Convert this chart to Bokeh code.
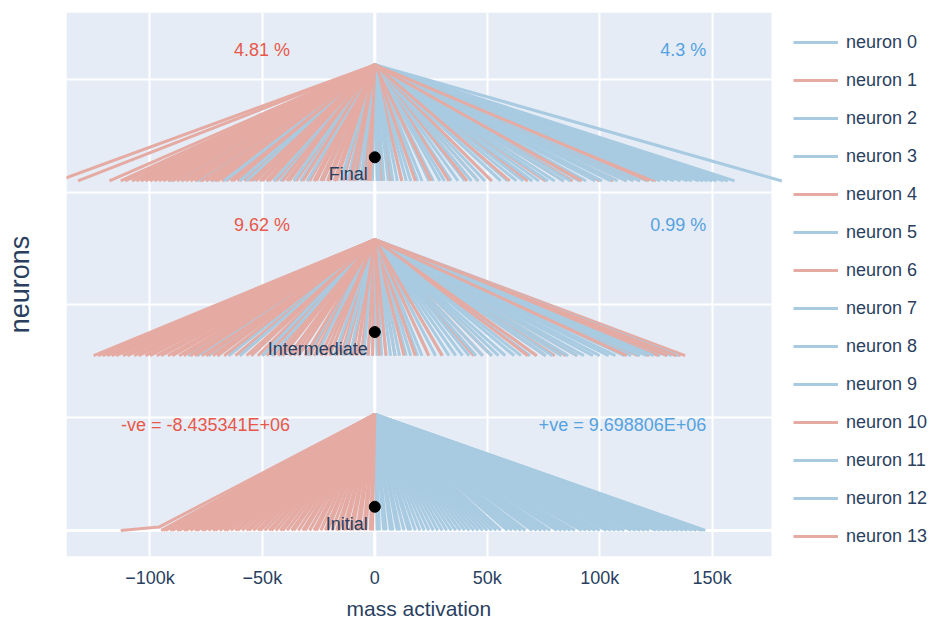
from bokeh.plotting import figure
from bokeh.models import (Range1d, FixedTicker, Legend, LegendItem, Span, BoxAnnotation, Grid,
                          Title, LinearAxis)
from bokeh.embed import file_html
from bokeh.resources import INLINE
from bokeh.core.properties import value

# ---------------- data (x values in thousands) ----------------
levels = ["Initial", "Intermediate", "Final"]
level_base = [0.0, 1.55, 3.1]
fan_height = 1.03
dot_offset = 0.21

neurons = [f"neuron {i}" for i in range(14)]
neuron_sign = ["+", "-", "+", "+", "-", "+", "-", "+", "+", "+", "-", "+", "+", "-"]

# Initial
init_red = [-95, -94, -93, -91, -90, -88, -87, -85, -84, -82, -80, -79, -77, -76, -74, -72,
            -71, -69, -67, -66, -64, -62, -61, -59, -57, -56, -54, -52, -51, -49, -47, -46,
            -44, -42, -41, -39, -37, -36, -34, -32, -31, -29, -27, -26, -24, -22, -21, -19,
            -17, -16, -14, -13, -11, -10, -8, -7, -5, -4, -2, -1]
init_red_knee = [(-113, -96)]
init_blue = [147, 146, 145, 143, 141, 139, 137, 135, 133, 131, 129, 127, 125, 122, 120, 118,
             116, 114, 111, 109, 107, 105, 103, 100, 98, 96, 94, 92, 89, 87, 85, 83, 81, 78,
             76, 74, 72, 70, 67, 65, 63, 61, 59, 56, 54, 52, 50, 48, 46, 44, 42, 40, 38, 36,
             34, 32, 30, 28, 26, 24, 22, 20, 18, 16, 15, 13, 11, 10, 8, 7, 5, 4, 2, 1]
# Intermediate
int_red = [-125, -123, -121, -119, -117, -115, -112, -110, -107, -105, -102, -100, -97, -95,
           -92, -90, -87, -85, -82, -80, -77, -75, -72, -70, -67, -65, -62, -60, -57, -55,
           -52, -50, -48, -45, -43, -41, -38, -36, -34, -31, -29, -27, -24, -22, -20, -17,
           -15, -13, -10, -8, -6, -3, -1,
           2, 5, 9, 13, 18, 24, 30, 44, 48, 52, 68, 72, 76, 80, 85, 90, 112, 117, 122, 126,
           130, 134, 136, 138]
int_blue = [-83, -79, -74, -70, -65, -60, -55, -50, -46, -42, -38, -34, -30, -26, -22, -18,
            -14, -11, -8, -5, -3, -1,
            1, 3, 5, 7, 9, 11, 14, 16, 19, 21, 24, 27, 30, 33, 36, 39, 42, 45, 48, 52, 55,
            58, 62, 65, 69, 72, 76, 79, 83, 86, 90, 93, 97, 100, 104, 107, 111, 114, 118,
            121, 124, 127, 130, 132, 134, 135]
# Final
fin_red = [-141, -132, -118, -113, -111, -108, -106, -104, -102, -100, -98, -96, -94, -92,
           -90, -88, -86, -84, -82, -80, -78, -77, -75, -73, -71, -70, -68, -66, -64, -63,
           -61, -60, -58, -56, -55, -53, -51, -50, -48, -47, -45, -44, -42, -41, -39, -38,
           -36, -35, -33, -32, -30, -29, -27, -26, -24, -23, -21, -20, -18, -17, -15, -14,
           -12, -11, -9, -8, -6, -5, -3, -2,
           3, 7, 12, 18, 25, 33, 41, 46, 52, 60, 68, 76, 84, 88, 92, 100, 106, 112, 118,
           122, 125]
fin_blue = [-91, -86, -79, -75, -72, -67, -64, -60, -57, -54, -51, -48, -45, -42, -39, -36,
            -33, -30, -27, -24, -21, -18, -15, -12, -10, -8, -6, -4, -3, -1,
            1, 2, 4, 6, 8, 10, 12, 14, 16, 19, 21, 24, 26, 29, 31, 34, 37, 40, 43, 46, 49,
            52, 56, 59, 63, 66, 70, 73, 77, 80, 84, 87, 91, 94, 98, 101, 105, 108, 112, 115,
            118, 121, 124, 127, 130, 133, 136, 139, 141, 144, 146, 148, 150, 152, 155, 157,
            160, 181]

red_ends = [init_red, int_red, fin_red]
blue_ends = [init_blue, int_blue, fin_blue]
red_knees = [init_red_knee, [], []]

neg_text = ["-ve = -8.435341E+06", "9.62 %", "4.81 %"]
pos_text = ["+ve = 9.698806E+06", "0.99 %", "4.3 %"]
text_y = [0.934, 2.705, 4.26]
neg_text_x = -37.7
pos_text_x = 147.4

x_tick_values = [-100, -50, 0, 50, 100, 150]
x_tick_labels = ["\u2212100k", "\u221250k", "0", "50k", "100k", "150k"]
y_grid_values = [0, 1, 2, 3, 4]

# axis extents (data units)
X_MIN, X_MAX = -137.1, 176.4
Y_MIN, Y_MAX = -0.231, 4.594
X_LEGEND_END = 248.0   # extra room on the right of the frame for the legend

# ---------------- styling ----------------
RED = "#E5ABA3"
BLUE = "#A8CBE1"
RED_TXT = "#E8574A"
BLUE_TXT = "#55A2E0"
INK = "#2a3f5f"
PLOT_BG = "#E5ECF6"
FONT = "Liberation Sans"

p = figure(width=932, height=642, output_backend="svg", toolbar_location=None,
           x_range=Range1d(X_MIN, X_LEGEND_END), y_range=Range1d(Y_MIN, Y_MAX),
           min_border_left=66, min_border_right=0, min_border_top=12, min_border_bottom=86)
p.background_fill_color = "white"
p.border_fill_color = "white"
p.outline_line_color = None

p.add_layout(BoxAnnotation(left=X_MIN, right=X_MAX, bottom=Y_MIN, top=Y_MAX,
                           fill_color=PLOT_BG, fill_alpha=1, line_color=None, level="image"))

p.xaxis.ticker = FixedTicker(ticks=x_tick_values)
p.xaxis.major_label_overrides = {v: l for v, l in zip(x_tick_values, x_tick_labels)}
p.xaxis.bounds = (X_MIN, X_MAX)
p.yaxis.ticker = FixedTicker(ticks=[])
p.xgrid.ticker = FixedTicker(ticks=x_tick_values)
p.ygrid.ticker = FixedTicker(ticks=y_grid_values)
p.xgrid.grid_line_color = "white"
p.xgrid.grid_line_width = 2
p.ygrid.grid_line_color = "white"
p.ygrid.grid_line_width = 2
p.ygrid.cross_bounds = (X_MIN, X_MAX)

# zero lines
p.add_layout(Grid(dimension=1, ticker=FixedTicker(ticks=[0]), grid_line_color="white",
                  grid_line_width=3, cross_bounds=(X_MIN, X_MAX)))
p.add_layout(Span(location=0, dimension="height", line_color="white", line_width=3, level="underlay"))

for ax in (p.xaxis[0], p.yaxis[0]):
    ax.axis_line_color = None
    ax.major_tick_line_color = None
    ax.minor_tick_line_color = None
    ax.major_tick_out = 0
    ax.major_tick_in = 0
    ax.minor_tick_out = 0
    ax.axis_label_text_color = INK
    ax.axis_label_text_font_style = "normal"
    ax.major_label_text_color = INK

p.xaxis.major_label_text_font = FONT
p.xaxis.major_label_text_font_size = "18px"
p.xaxis.major_label_standoff = 11

p.yaxis.major_label_standoff = 0
p.yaxis.axis_label = "neurons"
p.yaxis.axis_label_text_font = FONT
p.yaxis.axis_label_text_font_size = "27px"
p.yaxis.axis_label_standoff = 32

# empty spacer axis (no ticks exist, so nothing is drawn) to push the x title lower
spacer = LinearAxis(ticker=FixedTicker(ticks=[]), major_tick_out=16, major_tick_in=0,
                    minor_tick_out=0, minor_tick_in=0, major_label_standoff=0,
                    axis_line_color=None, major_tick_line_color="white",
                    minor_tick_line_color=None)
p.add_layout(spacer, "below")
p.add_layout(Title(text="mass activation", align="left", offset=280, standoff=8,
                   text_font=FONT, text_font_size="21px", text_font_style="normal",
                   text_color=INK), "below")

# ---------------- build fan lines per neuron ----------------
red_ids = [i for i, s in enumerate(neuron_sign) if s == "-"]
blue_ids = [i for i, s in enumerate(neuron_sign) if s == "+"]
xs = {i: [] for i in range(14)}
ys = {i: [] for i in range(14)}
for li, base in enumerate(level_base):
    apex = base + fan_height
    for j, xe in enumerate(red_ends[li]):
        n = red_ids[j % len(red_ids)]
        xs[n].append([0, xe]); ys[n].append([apex, base])
    for j, xe in enumerate(blue_ends[li]):
        n = blue_ids[j % len(blue_ids)]
        xs[n].append([0, xe]); ys[n].append([apex, base])
    for j, (xe, xk) in enumerate(red_knees[li]):
        n = red_ids[j % len(red_ids)]
        xs[n].append([0, xk, xe]); ys[n].append([apex, base + 0.03, base])

renderers = []
for i in range(14):
    col = RED if neuron_sign[i] == "-" else BLUE
    r = p.multi_line(xs[i], ys[i], line_color=col, line_width=3)
    renderers.append(r)

dot_y = [b + dot_offset for b in level_base]
p.scatter(x=[0] * 3, y=dot_y, size=11, color="black")
p.text(x=[0] * 3, y=dot_y, text=levels, text_align="right", text_baseline="top",
       x_offset=-7, y_offset=7, text_font=value(FONT), text_font_size="18px", text_color=INK)

p.text(x=[neg_text_x] * 3, y=text_y, text=neg_text, text_align="right", text_baseline="middle",
       text_font=value(FONT), text_font_size="18px", text_color=RED_TXT)
p.text(x=[pos_text_x] * 3, y=text_y, text=pos_text, text_align="right", text_baseline="middle",
       text_font=value(FONT), text_font_size="18px", text_color=BLUE_TXT)

legend = Legend(items=[LegendItem(label=neurons[i], renderers=[renderers[i]]) for i in range(14)],
                location=(727, 8), margin=0, padding=0, spacing=14,
                glyph_width=45, glyph_height=24, label_height=24, label_standoff=8,
                label_text_font=FONT, label_text_font_size="18px", label_text_color=INK,
                border_line_color=None, background_fill_alpha=0)
p.add_layout(legend)

open("out.html", "w").write(file_html(p, INLINE))
